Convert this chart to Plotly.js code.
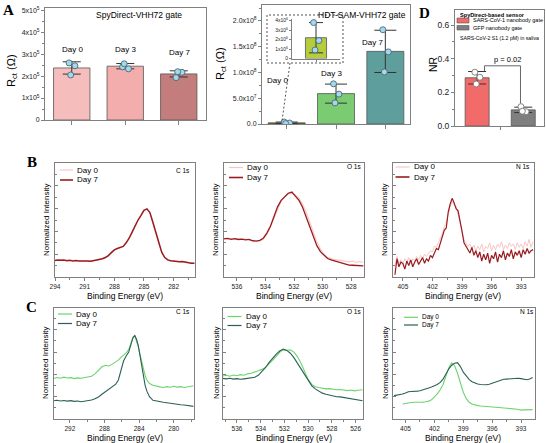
<!DOCTYPE html>
<html><head><meta charset="utf-8">
<script src="https://cdn.plot.ly/plotly-3.0.1.min.js"></script>
<style>html,body{margin:0;padding:0;background:#fff}#chart{width:546px;height:443px}</style>
</head><body><div id="chart"></div>
<script>
// ---------------- DATA ----------------
const DAYS_A = ['Day 0','Day 3','Day 7'];
// Panel A left: SpyDirect-VHH72 gate, Rct (ohm)
const spyMean = [2.37e5, 2.45e5, 2.10e5];
const spyErr  = [0.28e5, 0.12e5, 0.14e5];
const spyReps = [[2.60e5, 2.47e5, 2.05e5],[2.42e5, 2.33e5, 2.56e5],[1.93e5, 2.17e5, 2.20e5]];
// Panel A right: HDT-SAM-VHH72 gate, Rct (ohm)
const hdtMean = [2.2e6, 5.9e7, 1.41e8];
const hdtErr  = [1.6e6, 1.85e7, 4.1e7];
const hdtReps = [[3.8e6, 1.9e6, 0.9e6],[7.8e7, 5.8e7, 4.1e7],[1.83e8, 1.40e8, 1.01e8]];
// Panel D: NR
const D_GROUPS = ['SARS-CoV-1 nanobody gate','GFP nanobody gate'];
const nrMean = [0.287, 0.096];
const nrErr  = [0.037, 0.016];
const nrReps = [[0.32, 0.29, 0.25],[0.115, 0.085, 0.088]];
const P_TEXT = 'p = 0.02';

// Panel B (Day 0 vs Day 7, normalized intensity)
const E_B1 = [294.0,293.7,293.4,293.1,292.8,292.5,292.2,291.9,291.6,291.3,291.0,290.7,290.4,290.1,289.8,289.5,289.2,288.9,288.6,288.3,288.0,287.7,287.4,287.1,286.8,286.5,286.2,285.9,285.6,285.3,285.0,284.7,284.4,284.1,283.8,283.5,283.2,282.9,282.6,282.3,282.0,281.7,281.4,281.1,280.8,280.5,280.2,279.9];
const B1_d0 = [0.148,0.146,0.151,0.145,0.148,0.143,0.146,0.142,0.145,0.140,0.143,0.139,0.142,0.141,0.148,0.150,0.163,0.175,0.192,0.212,0.235,0.252,0.256,0.272,0.305,0.345,0.390,0.452,0.505,0.545,0.588,0.596,0.560,0.478,0.380,0.288,0.218,0.173,0.153,0.140,0.141,0.136,0.137,0.131,0.132,0.127,0.124,0.122];
const B1_d7 = [0.145,0.150,0.146,0.149,0.143,0.147,0.141,0.144,0.140,0.142,0.138,0.141,0.139,0.143,0.146,0.152,0.160,0.171,0.188,0.214,0.238,0.250,0.258,0.268,0.300,0.340,0.393,0.448,0.500,0.540,0.585,0.598,0.565,0.480,0.385,0.290,0.215,0.170,0.150,0.143,0.138,0.139,0.133,0.135,0.128,0.125,0.121,0.120];

const E_B2 = [536.9,536.65,536.4,536.15,535.9,535.65,535.4,535.15,534.9,534.65,534.4,534.15,533.9,533.65,533.4,533.15,532.9,532.65,532.4,532.15,531.9,531.65,531.4,531.15,530.9,530.65,530.4,530.15,529.9,529.65,529.4,529.15,528.9,528.65,528.4,528.15,527.9,527.65,527.4,527.15];
const B2_d0 = [0.340,0.333,0.338,0.330,0.335,0.328,0.332,0.325,0.322,0.318,0.315,0.330,0.370,0.440,0.520,0.600,0.665,0.705,0.730,0.735,0.720,0.690,0.640,0.570,0.480,0.395,0.310,0.245,0.200,0.172,0.160,0.152,0.148,0.143,0.138,0.133,0.140,0.128,0.136,0.130];
const B2_d7 = [0.335,0.338,0.331,0.336,0.329,0.333,0.326,0.330,0.318,0.314,0.322,0.340,0.385,0.445,0.530,0.615,0.672,0.700,0.735,0.745,0.705,0.672,0.612,0.530,0.440,0.350,0.275,0.222,0.190,0.162,0.150,0.140,0.136,0.125,0.112,0.105,0.103,0.100,0.098,0.097];

const E_B3 = [405.8,405.6,405.4,405.2,405.0,404.8,404.6,404.4,404.2,404.0,403.8,403.6,403.4,403.2,403.0,402.8,402.6,402.4,402.2,402.0,401.8,401.6,401.4,401.2,401.0,400.8,400.6,400.4,400.2,400.0,399.8,399.6,399.4,399.2,399.0,398.8,398.6,398.4,398.2,398.0,397.8,397.6,397.4,397.2,397.0,396.8,396.6,396.4,396.2,396.0,395.8,395.6,395.4,395.2,395.0,394.8,394.6,394.4,394.2,394.0,393.8,393.6,393.4,393.2,393.0,392.8,392.6,392.4,392.2,392.0,391.8];
const B3_d0 = [0.10,0.18,0.12,0.15,0.11,0.16,0.13,0.17,0.12,0.16,0.14,0.18,0.15,0.19,0.16,0.20,0.18,0.21,0.23,0.22,0.27,0.26,0.30,0.33,0.38,0.44,0.48,0.55,0.62,0.66,0.63,0.62,0.55,0.48,0.42,0.33,0.30,0.27,0.29,0.25,0.28,0.23,0.27,0.24,0.29,0.22,0.27,0.25,0.30,0.23,0.28,0.24,0.29,0.26,0.31,0.24,0.28,0.25,0.30,0.27,0.29,0.24,0.30,0.26,0.29,0.25,0.31,0.27,0.33,0.26,0.31];
const B3_d7 = [0.02,0.16,0.09,0.13,0.12,0.07,0.14,0.10,0.15,0.09,0.13,0.16,0.11,0.14,0.17,0.12,0.16,0.14,0.19,0.17,0.22,0.25,0.24,0.30,0.35,0.41,0.43,0.57,0.64,0.69,0.65,0.60,0.58,0.47,0.40,0.30,0.27,0.24,0.21,0.26,0.19,0.23,0.17,0.22,0.14,0.20,0.15,0.21,0.12,0.19,0.16,0.22,0.13,0.20,0.17,0.23,0.15,0.21,0.18,0.24,0.16,0.22,0.19,0.23,0.17,0.24,0.20,0.25,0.21,0.23,0.24];

// Panel C
const E_C1 = [293.9,293.5,293.1,292.7,292.3,291.9,291.5,291.1,290.7,290.3,289.9,289.5,289.1,288.7,288.3,287.9,287.5,287.1,286.7,286.4,286.1,285.8,285.5,285.2,284.9,284.7,284.5,284.3,284.1,283.9,283.7,283.5,283.3,283.1,282.8,282.4,282.0,281.6,281.2,280.8,280.4,280.0,279.6,279.2,278.8,278.4,278.0,277.7];
const C1_d0 = [0.364,0.372,0.366,0.375,0.368,0.371,0.362,0.369,0.365,0.372,0.376,0.383,0.405,0.440,0.468,0.482,0.476,0.492,0.512,0.528,0.552,0.570,0.592,0.625,0.690,0.735,0.745,0.705,0.650,0.580,0.505,0.440,0.388,0.350,0.318,0.302,0.292,0.288,0.283,0.290,0.285,0.294,0.286,0.290,0.282,0.288,0.295,0.298];
const C1_d7 = [0.164,0.168,0.161,0.166,0.160,0.165,0.158,0.162,0.155,0.158,0.163,0.170,0.182,0.198,0.222,0.245,0.262,0.288,0.312,0.350,0.430,0.520,0.565,0.600,0.680,0.730,0.748,0.715,0.660,0.575,0.470,0.380,0.300,0.250,0.200,0.168,0.160,0.152,0.150,0.146,0.140,0.138,0.134,0.128,0.125,0.120,0.116,0.113];

const E_C2 = [537.2,536.9,536.6,536.3,536.0,535.7,535.4,535.1,534.8,534.5,534.2,533.9,533.6,533.3,533.0,532.7,532.4,532.1,531.8,531.5,531.2,530.9,530.6,530.3,530.0,529.7,529.4,529.1,528.8,528.5,528.2,527.9,527.6,527.3,527.0,526.7,526.4,526.1,525.8,525.4];
const C2_d0 = [0.385,0.392,0.384,0.395,0.388,0.398,0.392,0.405,0.410,0.418,0.432,0.445,0.462,0.495,0.525,0.560,0.598,0.620,0.616,0.620,0.600,0.560,0.500,0.420,0.355,0.310,0.290,0.282,0.275,0.270,0.272,0.266,0.262,0.265,0.258,0.255,0.260,0.252,0.258,0.262];
const C2_d7 = [0.364,0.360,0.366,0.358,0.362,0.356,0.360,0.364,0.368,0.374,0.392,0.425,0.460,0.505,0.545,0.580,0.610,0.627,0.615,0.590,0.550,0.500,0.450,0.395,0.340,0.300,0.270,0.248,0.232,0.222,0.214,0.206,0.200,0.198,0.192,0.188,0.182,0.176,0.170,0.164];

const E_C3 = [406.2,405.9,405.6,405.3,405.0,404.7,404.4,404.1,403.8,403.5,403.2,402.9,402.6,402.3,402.0,401.7,401.4,401.1,400.8,400.5,400.2,399.9,399.6,399.3,399.0,398.7,398.4,398.1,397.8,397.5,397.2,396.9,396.6,396.3,396.0,395.7,395.4,395.1,394.8,394.5,394.2,393.9,393.6,393.3,393.0,392.7,392.4,392.1,391.8];
const C3_d0 = [null,null,null,0.134,0.140,0.146,0.148,0.150,0.149,0.152,0.151,0.155,0.160,0.172,0.195,0.225,0.262,0.310,0.385,0.460,0.503,0.478,0.410,0.318,0.240,0.185,0.150,0.134,0.125,0.120,0.116,0.114,0.112,0.110,0.108,0.106,0.104,0.104,0.101,0.098,0.097,0.094,0.090,0.085,0.080,0.082,0.084,0.085,0.084];
const C3_d7 = [0.210,0.214,0.219,0.224,0.233,0.244,0.246,0.245,0.250,0.254,0.260,0.268,0.278,0.288,0.298,0.310,0.328,0.358,0.403,0.450,0.482,0.500,0.505,0.470,0.420,0.385,0.356,0.335,0.322,0.314,0.309,0.307,0.307,0.312,0.320,0.332,0.342,0.350,0.356,0.358,0.361,0.364,0.367,0.366,0.362,0.356,0.352,0.358,0.372];

// tick labels
const A_L_TICKS = [0,1e5,2e5,3e5,4e5,5e5];
const A_L_TEXT = ['0','1x10<sup>5</sup>','2x10<sup>5</sup>','3x10<sup>5</sup>','4x10<sup>5</sup>','5x10<sup>5</sup>'];
const A_R_TICKS = [0,5e7,1e8,1.5e8,2e8];
const A_R_TEXT = ['0.0','5.0x10<sup>7</sup>','1.0x10<sup>8</sup>','1.5x10<sup>8</sup>','2.0x10<sup>8</sup>'];
const INS_TICKS = [0,1e6,2e6,3e6,4e6];
const INS_TEXT = ['0','1x10<sup>6</sup>','2x10<sup>6</sup>','3x10<sup>6</sup>','4x10<sup>6</sup>'];
const D_TICKS = [0,0.2,0.4,0.6];
const D_TEXT = ['0.0','0.2','0.4','0.6'];
const LEG = ['Day 0','Day 7'];
const CORE = ['C 1s','O 1s','N 1s'];

// ---------------- STYLE / LAYOUT ----------------
const W=546,H=443;
const FONT='Liberation Sans, Arial, sans-serif';
const SERIF='Liberation Serif, Times New Roman, serif';
const TXT='#000000';
const dx=(a,b)=>[a/W,b/W];
const dy=(t,b)=>[1-b/H,1-t/H];
const px=x=>x/W, py=y=>1-y/H;
const LC='#808080';
function frame(domain,o){
  return Object.assign({domain,showline:true,mirror:true,linecolor:LC,linewidth:1,showgrid:false,zeroline:false,
    ticks:'outside',ticklen:3,tickwidth:1,tickcolor:LC,tickfont:{size:7,family:FONT,color:'#222'}},o);
}
const JIT=[-0.05,0.06,-0.02];
const A_COLORS=['#F6BDBD','#F3ADAD','#C47D7D'];
const H_COLORS=['#5E6B2E','#7BCB72','#5E9E9C'];
const D_COLORS=['#F26B6B','#7F7F7F'];
const B0='#F8C6C6',B7='#9A1B1E',C0='#6CD46C',C7='#2C5F57';

function pts(reps,xa,ya,fill,line){
  const x=[],y=[];
  reps.forEach((r,i)=>r.forEach((v,j)=>{x.push(i+JIT[j]);y.push(v);}));
  return {type:'scatter',mode:'markers',x,y,xaxis:xa,yaxis:ya,hoverinfo:'skip',
    marker:{size:6,color:fill,line:{color:line,width:0.9}}};
}
function bar(mean,err,cols,w,xa,ya,cap){
  return {type:'bar',x:mean.map((_,i)=>i),y:mean,xaxis:xa,yaxis:ya,width:w,
    marker:{color:cols,line:{color:'#555',width:0.8}},
    error_y:{type:'data',array:err,visible:true,color:'#333',thickness:1,width:cap}};
}
function line(x,y,xa,ya,c,w){
  return {type:'scatter',mode:'lines',x,y,xaxis:xa,yaxis:ya,line:{color:c,width:w},hoverinfo:'skip'};
}

const traces=[
  bar(spyMean,spyErr,A_COLORS,0.68,'x','y',9),
  pts(spyReps,'x','y','#A5D8EC','#4d6a75'),
  bar(hdtMean,hdtErr,H_COLORS,0.75,'x2','y2',11),
  pts(hdtReps,'x2','y2','#A5D8EC','#4d6a75'),
  bar(nrMean,nrErr,D_COLORS,0.52,'x3','y3',9),
  pts(nrReps,'x3','y3','#ffffff','#777'),
  bar([hdtMean[0]],[hdtErr[0]],['#B5CC3E'],0.44,'x4','y4',7),
  pts([hdtReps[0]],'x4','y4','#A5D8EC','#4d6a75'),
  line(E_B1,B1_d0,'x5','y5',B0,1), line(E_B1,B1_d7,'x5','y5',B7,1.5),
  line(E_B2,B2_d0,'x6','y6',B0,1.1), line(E_B2,B2_d7,'x6','y6',B7,1.3),
  line(E_B3,B3_d0,'x7','y7',B0,1), line(E_B3,B3_d7,'x7','y7',B7,1.2),
  line(E_C1,C1_d0,'x8','y8',C0,1.1), line(E_C1,C1_d7,'x8','y8',C7,1.1),
  line(E_C2,C2_d0,'x9','y9',C0,1.1), line(E_C2,C2_d7,'x9','y9',C7,1.1),
  line(E_C3,C3_d0,'x10','y10',C0,1.1), line(E_C3,C3_d7,'x10','y10',C7,1.1)
];

const xpsY=(dom,anc)=>frame(dom,{range:[0,1],showticklabels:false,ticks:'inside',dtick:0.2,tick0:0,ticklen:3,anchor:anc,
  minor:{dtick:0.1,ticks:'inside',ticklen:2,tickcolor:LC}});
const xpsX=(dom,rng,t0,dt,anc)=>frame(dom,{range:rng,tick0:t0,dtick:dt,anchor:anc,tickfont:{size:6.5,family:FONT,color:'#222'},
  minor:{dtick:dt/2,ticks:'outside',ticklen:2,tickcolor:LC}});

const layout={
  width:W,height:H,margin:{l:0,r:0,t:0,b:0},showlegend:false,
  paper_bgcolor:'#fff',plot_bgcolor:'rgba(0,0,0,0)',font:{family:FONT,color:TXT},
  xaxis:frame(dx(45,205.5),{range:[-0.5,2.5],tickvals:[0,1,2],showticklabels:false,ticklen:4,anchor:'y'}),
  yaxis:frame(dy(8,120),{range:[0,5.1e5],tickvals:A_L_TICKS,ticktext:A_L_TEXT,anchor:'x',
    minor:{tickvals:[0.5e5,1.5e5,2.5e5,3.5e5,4.5e5],ticks:'outside',ticklen:2,tickcolor:LC}}),
  xaxis2:frame(dx(262,410),{range:[-0.5,2.5],tickvals:[0,1,2],showticklabels:false,ticklen:4,anchor:'y2'}),
  yaxis2:frame(dy(5,124),{range:[0,2.31e8],tickvals:A_R_TICKS,ticktext:A_R_TEXT,anchor:'x2',
    minor:{tickvals:[2.5e7,7.5e7,1.25e8,1.75e8,2.25e8],ticks:'outside',ticklen:2,tickcolor:LC}}),
  xaxis3:frame(dx(455,544),{range:[-0.48,1.45],tickvals:[0.5],ticktext:['Nanobody gates were<br>prepared from dried peptide'],
    tickfont:{size:7.5,family:FONT,color:'#222'},anchor:'y3'}),
  yaxis3:frame(dy(10,126),{range:[0,0.69],tickvals:D_TICKS,ticktext:D_TEXT,tickfont:{size:8.5,family:FONT,color:'#222'},anchor:'x3',
    minor:{tickvals:[0.1,0.3,0.5],ticks:'outside',ticklen:2,tickcolor:LC}}),
  xaxis4:{domain:dx(292,340),range:[-0.5,0.5],showline:true,linecolor:LC,linewidth:1,showgrid:false,zeroline:false,
    tickvals:[0],showticklabels:false,ticks:'outside',ticklen:2,tickcolor:LC,anchor:'y4'},
  yaxis4:{domain:dy(19,58.5),range:[0,4.18e6],showline:true,linecolor:LC,linewidth:1,showgrid:false,zeroline:false,
    tickvals:INS_TICKS,ticktext:INS_TEXT,ticks:'outside',ticklen:2,tickcolor:LC,tickfont:{size:5,family:FONT,color:'#222'},anchor:'x4'},
  xaxis5:xpsX(dx(55,195),[294,279.84],282,3,'y5'), yaxis5:xpsY(dy(163,277),'x5'),
  xaxis6:xpsX(dx(224,364),[536.9,527.1],528,2,'y6'), yaxis6:xpsY(dy(163,277),'x6'),
  xaxis7:xpsX(dx(393,534),[406,391.7],393,3,'y7'), yaxis7:xpsY(dy(163,277),'x7'),
  xaxis8:xpsX(dx(53.5,193.6),[293.9,277.7],280,4,'y8'), yaxis8:xpsY(dy(307.5,419),'x8'),
  xaxis9:xpsX(dx(222.7,362.7),[537.2,525.4],526,2,'y9'), yaxis9:xpsY(dy(307.5,419),'x9'),
  xaxis10:xpsX(dx(393.3,535),[406.27,391.55],393,3,'y10'), yaxis10:xpsY(dy(307.5,419),'x10'),
  annotations:[],shapes:[]
};

const ann=layout.annotations, shp=layout.shapes;
function T(x,y,text,size,o){
  ann.push(Object.assign({xref:'paper',yref:'paper',x:px(x),y:py(y),text,showarrow:false,
    font:{size,family:FONT,color:TXT},xanchor:'center',yanchor:'middle'},o||{}));
}
function L(x0,x1,y,c,w){shp.push({type:'line',xref:'paper',yref:'paper',x0:px(x0),x1:px(x1),y0:py(y),y1:py(y),line:{color:c,width:w}});}
const BIG={font:{size:15,family:SERIF,color:'#000'}};
T(8,10,'<b>A</b>',15,BIG); T(32,162,'<b>B</b>',15,BIG); T(31,307,'<b>C</b>',15,BIG); T(424,13,'<b>D</b>',15,BIG);

// Panel A text
T(139,15,'SpyDirect-VHH72 gate',8.5);
[[72,50],[125,50],[179,52]].forEach((p,i)=>T(p[0],p[1],DAYS_A[i],8));
T(12,71,'R<sub>ct</sub> (Ω)',11,{textangle:-90});
T(362,15,'HDT-SAM-VHH72 gate',8.5);
[[277,81],[331,74],[372,42]].forEach((p,i)=>T(p[0],p[1],DAYS_A[i],8));
T(221,64,'R<sub>ct</sub> (Ω)',11,{textangle:-90});
shp.push({type:'rect',xref:'paper',yref:'paper',x0:px(267),x1:px(343),y0:py(63),y1:py(15),line:{color:'#555',width:1,dash:'2px,2px'}});
shp.push({type:'line',xref:'paper',yref:'paper',x0:px(290),y0:py(63),x1:px(282),y1:py(121),line:{color:'#555',width:1,dash:'2px,2px'}});

// Panel D text
T(433,64,'NR',10.5,{textangle:-90});
T(458,15,'<b>SpyDirect-based sensor</b>',5.6,{xanchor:'left'});
shp.push({type:'rect',xref:'paper',yref:'paper',x0:px(457),x1:px(469),y0:py(23),y1:py(18),fillcolor:D_COLORS[0],line:{color:'#555',width:0.6}});
shp.push({type:'rect',xref:'paper',yref:'paper',x0:px(457),x1:px(469),y0:py(30),y1:py(25.5),fillcolor:D_COLORS[1],line:{color:'#555',width:0.6}});
T(471,20.5,D_GROUPS[0],5.5,{xanchor:'left'});
T(471,28,D_GROUPS[1],5.5,{xanchor:'left'});
T(458,38,'SARS-CoV-2 S1 (1.2 pM) in saliva',5.2,{xanchor:'left'});
T(507,60,P_TEXT,7.5);
shp.push({type:'path',xref:'x3',yref:'y3',path:'M0.16,0.326 L0.16,0.358 L0.94,0.358 L0.94,0.135',line:{color:'#666',width:1}});

// XPS labels
const bx=[125,294,463], bYt=[47,216,385], cYt=[45,216,385];
bx.forEach(x=>{T(x,296,'Binding Energy (eV)',8.5); T(x,437.5,'Binding Energy (eV)',8.5);});
bYt.forEach(x=>T(x,220,'Normalized Intensity',8,{textangle:-90}));
cYt.forEach(x=>T(x,363,'Normalized Intensity',8,{textangle:-90}));
T(183,170,CORE[0],6.5); T(354,167,CORE[1],6.5); T(523,167,CORE[2],6.5);
T(183,311,CORE[0],6.5); T(354,311,CORE[1],6.5); T(527,311,CORE[2],6.5);
// manual legends
[[60,73,170,180],[229,243,167.5,177.5],[395.5,409.5,167,177]].forEach(p=>{
  L(p[0],p[1],p[2],B0,1.2); L(p[0],p[1],p[3],B7,1.6);
  T(p[1]+2,p[2],LEG[0],8,{xanchor:'left'}); T(p[1]+2,p[3],LEG[1],8,{xanchor:'left'});
});
[[58,72,314,323.5],[227.5,241.5,316.5,325.5],[404,418,317.3,325]].forEach((p,i)=>{
  L(p[0],p[1],p[2],C0,1.2); L(p[0],p[1],p[3],C7,1.2);
  const fs=i===2?6.5:8;
  T(p[1]+2,p[2],LEG[0],fs,{xanchor:'left'}); T(p[1]+2,p[3],LEG[1],fs,{xanchor:'left'});
});

Plotly.newPlot('chart',traces,layout,{staticPlot:true,displayModeBar:false});
</script></body></html>
